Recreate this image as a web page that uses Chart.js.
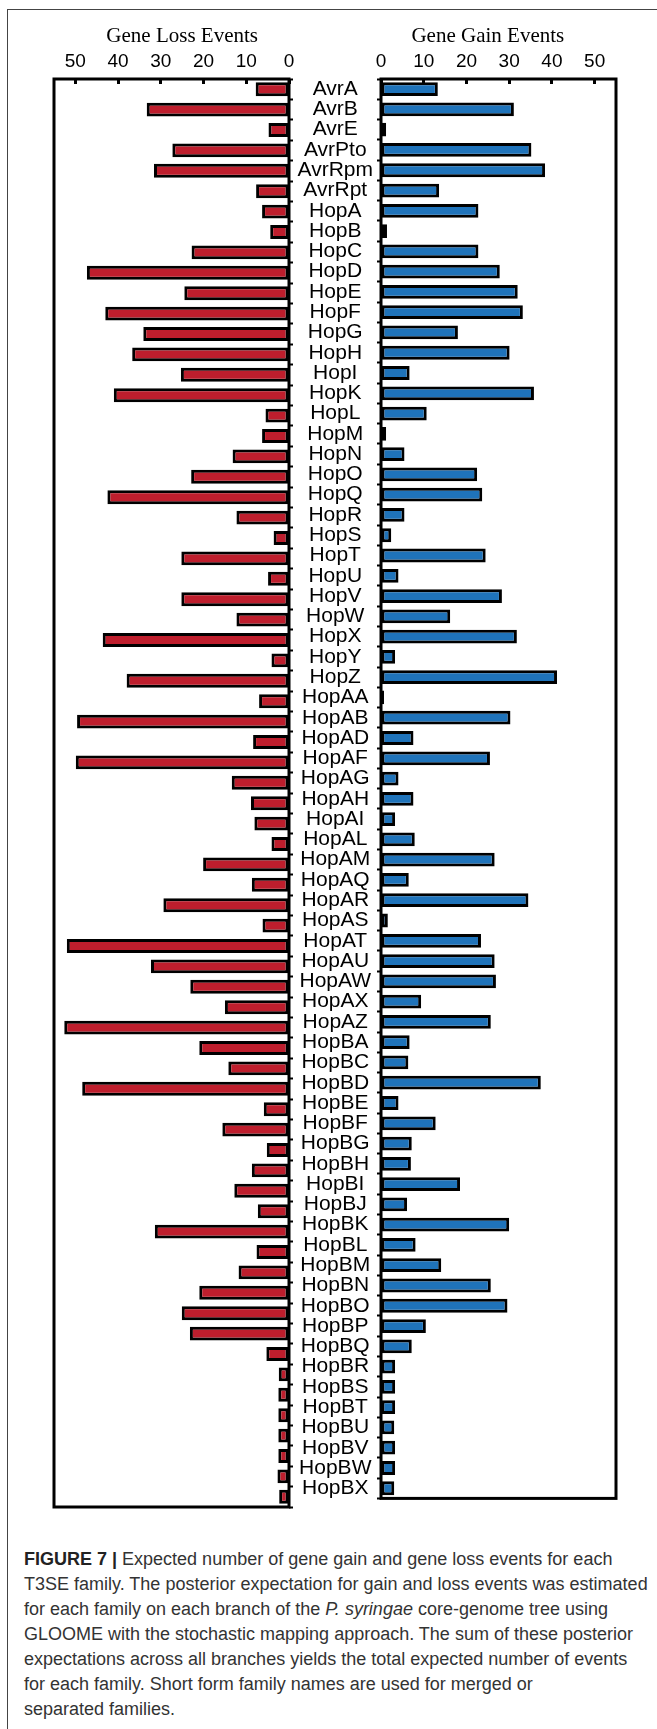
<!DOCTYPE html>
<html>
<head>
<meta charset="utf-8">
<script src="https://cdn.jsdelivr.net/npm/chart.js@4.4.0/dist/chart.umd.min.js"></script>
<style>
  body { margin: 0; background: #fff; width: 657px; height: 1729px; overflow: hidden; position: relative; }
  #frame { position: absolute; left: 7px; top: 9px; width: 700px; height: 1800px;
           border-left: 1.5px solid #444; border-top: 1.5px solid #444; }
  canvas { position: absolute; top: 0; }
  #lossChart { left: 0; }
  #gainChart { left: 296px; }
  #caption { position: absolute; left: 24px; top: 1547px; white-space: nowrap;
             font-family: "Liberation Sans", Arial, sans-serif;
             font-size: 18px; line-height: 25px; color: #333; }
  #caption b { color: #222; }
</style>
</head>
<body>
<div id="frame"></div>
<canvas id="lossChart" width="296" height="1515"></canvas>
<canvas id="gainChart" width="361" height="1515"></canvas>
<div id="caption">
<b>FIGURE 7 |</b> Expected number of gene gain and gene loss events for each<br>
T3SE family. The posterior expectation for gain and loss events was estimated<br>
for each family on each branch of the <i>P. syringae</i> core-genome tree using<br>
GLOOME with the stochastic mapping approach. The sum of these posterior<br>
expectations across all branches yields the total expected number of events<br>
for each family. Short form family names are used for merged or<br>
separated families.
</div>
<script>
// T3SE families, top to bottom
const families = [
  "AvrA", "AvrB", "AvrE", "AvrPto", "AvrRpm", "AvrRpt",
  "HopA", "HopB", "HopC", "HopD", "HopE", "HopF", "HopG", "HopH", "HopI", "HopK",
  "HopL", "HopM", "HopN", "HopO", "HopQ", "HopR", "HopS", "HopT", "HopU", "HopV",
  "HopW", "HopX", "HopY", "HopZ",
  "HopAA", "HopAB", "HopAD", "HopAF", "HopAG", "HopAH", "HopAI", "HopAL", "HopAM",
  "HopAQ", "HopAR", "HopAS", "HopAT", "HopAU", "HopAW", "HopAX", "HopAZ",
  "HopBA", "HopBC", "HopBD", "HopBE", "HopBF", "HopBG", "HopBH", "HopBI", "HopBJ",
  "HopBK", "HopBL", "HopBM", "HopBN", "HopBO", "HopBP", "HopBQ", "HopBR", "HopBS",
  "HopBT", "HopBU", "HopBV", "HopBW", "HopBX"
];

// expected gene loss events per family
const lossEvents = [
  7.8, 33.3, 4.8, 27.3, 31.6, 7.7,
  6.3, 4.4, 22.8, 47.3, 24.5, 43.0, 34.1, 36.7, 25.3, 41.0,
  5.5, 6.3, 13.2, 22.9, 42.5, 12.3, 3.6, 25.2, 4.9, 25.2,
  12.3, 43.6, 4.1, 38.0,
  7.0, 49.6, 8.4, 49.9, 13.4, 8.9, 8.1, 4.1, 20.1,
  8.7, 29.4, 6.2, 52.0, 32.3, 23.1, 15.0, 52.6,
  21.0, 14.2, 48.4, 5.9, 15.6, 5.2, 8.7, 12.8, 7.3,
  31.4, 7.6, 11.8, 21.0, 25.1, 23.2, 5.3, 2.4, 2.5,
  2.5, 2.5, 2.5, 2.7, 2.3
];

// expected gene gain events per family
const gainEvents = [
  13.3, 31.1, 1.2, 35.2, 38.4, 13.6,
  22.8, 1.4, 22.8, 27.8, 32.0, 33.2, 18.0, 30.1, 6.7, 35.8,
  10.7, 1.2, 5.5, 22.5, 23.7, 5.5, 2.4, 24.5, 4.1, 28.3,
  16.2, 31.8, 3.3, 41.2,
  0.7, 30.3, 7.6, 25.5, 4.1, 7.6, 3.3, 7.9, 26.6,
  6.5, 34.5, 1.6, 23.4, 26.6, 26.9, 9.4, 25.7,
  6.7, 6.4, 37.4, 4.1, 12.8, 7.2, 7.0, 18.5, 6.1,
  30.0, 8.1, 14.1, 25.7, 29.6, 10.5, 7.2, 3.3, 3.3,
  3.3, 3.1, 3.3, 3.3, 3.1
];

const axisTicks = [0, 10, 20, 30, 40, 50];
const axisMax = 55;

// box round the plotting area
const framePlugin = {
  id: "frame",
  afterDraw(chart) {
    const { ctx, chartArea: a } = chart;
    ctx.save();
    ctx.strokeStyle = "#000";
    ctx.lineWidth = 3;
    ctx.strokeRect(a.left, a.top, a.right - a.left, a.bottom - a.top);
    ctx.restore();
  }
};

// serif heading centred over the 0..50 ticks
const headingPlugin = {
  id: "heading",
  afterDraw(chart, args, opts) {
    const x = chart.scales.x;
    const cx = (x.getPixelForValue(0) + x.getPixelForValue(50)) / 2;
    const ctx = chart.ctx;
    ctx.save();
    ctx.font = '21px "Liberation Serif", "Times New Roman", serif';
    ctx.fillStyle = "#000";
    ctx.textAlign = "center";
    ctx.textBaseline = "middle";
    ctx.fillText(opts.text, cx, 36);
    ctx.restore();
  }
};

function xScale(reverse) {
  return {
    position: "top",
    reverse: reverse,
    min: 0,
    max: axisMax,
    afterBuildTicks: s => { s.ticks = axisTicks.map(v => ({ value: v })); },
    afterFit: s => { s.height = 79; },
    ticks: {
      padding: 11,
      color: "#000",
      font: { family: '"Liberation Sans", Arial, sans-serif', size: 19 }
    },
    grid: { drawOnChartArea: false, tickLength: -5, tickWidth: 3, tickColor: "#000" },
    border: { display: false }
  };
}

function barSet(values, colour) {
  return {
    data: values,
    backgroundColor: colour,
    borderColor: "#000",
    borderWidth: 3,
    borderSkipped: false,
    barPercentage: 0.68,
    categoryPercentage: 1
  };
}

Chart.defaults.animation = false;

// Gene loss (left, reversed)
new Chart(document.getElementById("lossChart"), {
  type: "bar",
  data: { labels: families, datasets: [barSet(lossEvents, "#BE1E2D")] },
  options: {
    indexAxis: "y",
    responsive: false,
    layout: { padding: { left: 54, right: 0, top: 0, bottom: 8 } },
    plugins: { legend: { display: false }, tooltip: { enabled: false }, heading: { text: "Gene Loss Events" } },
    scales: {
      x: xScale(true),
      y: {
        position: "right",
        afterFit: s => { s.width = 7; },
        ticks: { display: false },
        grid: { drawOnChartArea: false, tickLength: 4, tickWidth: 2, tickColor: "#000" },
        border: { display: false }
      }
    }
  },
  plugins: [framePlugin, headingPlugin]
});

// Gene gain (right), family names sit in its y axis
new Chart(document.getElementById("gainChart"), {
  type: "bar",
  data: { labels: families, datasets: [barSet(gainEvents, "#1F73BA")] },
  options: {
    indexAxis: "y",
    responsive: false,
    layout: { padding: { left: 0, right: 41, top: 0, bottom: 8 } },
    plugins: { legend: { display: false }, tooltip: { enabled: false }, heading: { text: "Gene Gain Events" } },
    scales: {
      x: xScale(false),
      y: {
        position: "left",
        afterFit: s => { s.width = 85; },
        ticks: {
          crossAlign: "center",
          padding: 4,
          autoSkip: false,
          color: "#000",
          font: { family: '"Liberation Sans", Arial, sans-serif', size: 21 }
        },
        grid: { drawOnChartArea: false, tickLength: 4, tickWidth: 2, tickColor: "#000" },
        border: { display: false }
      }
    }
  },
  plugins: [framePlugin, headingPlugin]
});
</script>
</body>
</html>
